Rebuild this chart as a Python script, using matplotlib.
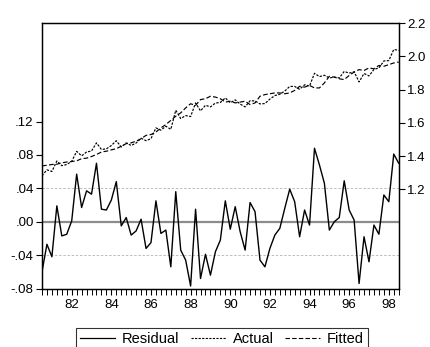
import numpy as np
import matplotlib.pyplot as plt
from matplotlib.ticker import FuncFormatter, MultipleLocator, FixedLocator
from matplotlib.lines import Line2D

plt.rcParams['font.family'] = ['Liberation Sans', 'DejaVu Sans']

# quarterly sample 1980Q3 - 1998Q3
start_year = 1980.5

residual = [
    -0.060, -0.027, -0.042, 0.019, -0.017, -0.015, 0.001, 0.057, 0.017, 0.037,
    0.033, 0.070, 0.015, 0.014, 0.026, 0.048, -0.005, 0.005, -0.016, -0.011,
    0.003, -0.032, -0.025, 0.025, -0.014, -0.010, -0.054, 0.036, -0.034, -0.046,
    -0.077, 0.015, -0.068, -0.039, -0.064, -0.036, -0.022, 0.025, -0.009, 0.018,
    -0.012, -0.034, 0.023, 0.012, -0.046, -0.054, -0.032, -0.016, -0.008, 0.016,
    0.039, 0.024, -0.018, 0.014, -0.004, 0.088, 0.068, 0.046, -0.010, 0.000,
    0.005, 0.049, 0.014, 0.002, -0.074, -0.018, -0.048, -0.004, -0.015, 0.032,
    0.024, 0.081, 0.070,
]

actual = [
    1.282, 1.318, 1.308, 1.371, 1.343, 1.350, 1.369, 1.429, 1.402, 1.425,
    1.431, 1.480, 1.440, 1.444, 1.464, 1.493, 1.455, 1.480, 1.464, 1.479,
    1.508, 1.493, 1.505, 1.570, 1.556, 1.580, 1.561, 1.676, 1.626, 1.644,
    1.638, 1.720, 1.672, 1.706, 1.696, 1.719, 1.723, 1.750, 1.721, 1.738,
    1.713, 1.696, 1.733, 1.732, 1.714, 1.716, 1.743, 1.764, 1.772, 1.791,
    1.819, 1.819, 1.802, 1.829, 1.821, 1.898, 1.878, 1.886, 1.870, 1.875,
    1.870, 1.909, 1.899, 1.907, 1.846, 1.897, 1.882, 1.921, 1.930, 1.972,
    1.974, 2.041, 2.036,
]

fitted = [
    1.342, 1.345, 1.350, 1.352, 1.360, 1.365, 1.368, 1.372, 1.385, 1.388,
    1.398, 1.410, 1.425, 1.430, 1.438, 1.445, 1.460, 1.475, 1.480, 1.490,
    1.505, 1.525, 1.530, 1.545, 1.570, 1.590, 1.615, 1.640, 1.660, 1.690,
    1.715, 1.705, 1.740, 1.745, 1.760, 1.755, 1.745, 1.725, 1.730, 1.720,
    1.725, 1.730, 1.710, 1.720, 1.760, 1.770, 1.775, 1.780, 1.780, 1.775,
    1.780, 1.795, 1.820, 1.815, 1.825, 1.810, 1.810, 1.840, 1.880, 1.875,
    1.865, 1.860, 1.885, 1.905, 1.920, 1.915, 1.930, 1.925, 1.945, 1.940,
    1.950, 1.960, 1.966,
]

year_ticks = [1982, 1984, 1986, 1988, 1990, 1992, 1994, 1996, 1998]
resid_ticks = [-0.08, -0.04, 0.00, 0.04, 0.08, 0.12]
level_ticks = [1.2, 1.4, 1.6, 1.8, 2.0, 2.2]

dates = start_year + np.arange(len(residual)) / 4.0

fig = plt.figure(figsize=(4.31, 3.47), dpi=100)
ax = fig.add_axes([0.0974, 0.1671, 0.8277, 0.7666])
ax2 = ax.twinx()

# residual panel (left scale)
ax.axhline(0.0, color='#8c8c8c', lw=1.6, zorder=1)
for g in (-0.04, 0.04):
    ax.axhline(g, color='#b4b4b4', lw=0.6, ls=(0, (3, 2)), zorder=1)
ax.plot(dates, residual, color='black', lw=1.0, zorder=3)
ax.set_ylim(-0.0806, 0.238)
ax.yaxis.set_major_locator(FixedLocator(resid_ticks))
ax.yaxis.set_major_formatter(FuncFormatter(lambda v, p: f"{v:.2f}".replace("0.", ".")))

# actual / fitted (right scale)
ax2.plot(dates, actual, color='black', lw=0.85, ls=(0, (2, 1.2)))
ax2.plot(dates, fitted, color='black', lw=0.85, ls=(0, (4, 2)))
ax2.set_ylim(0.602, 2.2)
ax2.yaxis.set_major_locator(FixedLocator(level_ticks))
ax2.yaxis.set_major_formatter(FuncFormatter(lambda v, p: f"{v:.1f}"))

ax.set_xlim(dates[0], dates[-1])
ax.xaxis.set_major_locator(FixedLocator(year_ticks))
ax.xaxis.set_minor_locator(MultipleLocator(0.25))
ax.xaxis.set_major_formatter(FuncFormatter(lambda v, p: f"{int(round(v)) % 100:02d}"))

for a in (ax, ax2):
    for s in a.spines.values():
        s.set_linewidth(0.9)
        s.set_color('black')
ax.tick_params(axis='both', which='major', direction='out', length=4, width=0.8,
               labelsize=9.5, pad=2)
ax.tick_params(axis='x', which='minor', direction='out', length=4, width=0.7)
ax.tick_params(axis='x', which='major', labelsize=9.5, pad=3)
ax2.tick_params(axis='y', direction='out', length=4, width=0.8, labelsize=9.5, pad=2)

handles = [
    Line2D([], [], color='black', lw=0.9),
    Line2D([], [], color='black', lw=0.8, ls=(0, (2, 1.2))),
    Line2D([], [], color='black', lw=0.8, ls=(0, (4, 2))),
]
leg = fig.legend(handles, ['Residual', 'Actual', 'Fitted'], loc='upper left',
                 bbox_to_anchor=(76 / 431, 1 - 328 / 347), ncol=3, fontsize=10.5,
                 frameon=True, fancybox=False, edgecolor='black',
                 borderaxespad=0, handlelength=2.4, handletextpad=0.45,
                 columnspacing=0.8, borderpad=0.3)
leg.get_frame().set_linewidth(0.8)

fig.savefig('out.png', dpi=100)
